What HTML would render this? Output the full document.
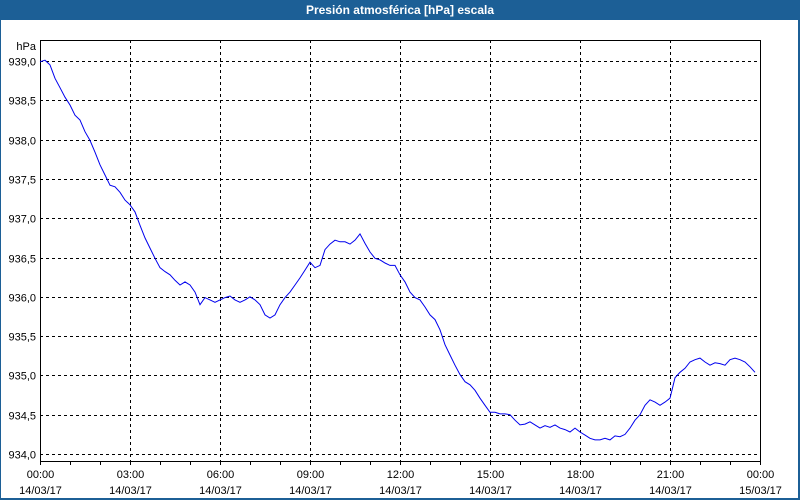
<!DOCTYPE html>
<html><head><meta charset="utf-8"><style>
html,body{margin:0;padding:0;background:#fff}
#wrap{position:relative;width:800px;height:500px;overflow:hidden;font-family:"Liberation Sans",sans-serif;background:#fff}
</style></head><body>
<div id="wrap">
<svg id="svg" width="800" height="500" xmlns="http://www.w3.org/2000/svg">
<rect x="0" y="0" width="800" height="500" fill="#1c5f96"/>
<rect x="1" y="20" width="797" height="478" fill="#fff"/>
<text x="400" y="14" text-anchor="middle" font-size="12" font-weight="bold" fill="#fff">Presión atmosférica [hPa] escala</text>
<g id="grid"></g>
<g id="axes"></g>
<polyline id="line" fill="none" stroke="#0000ee" stroke-width="1"/>
</svg>
</div>
<script>
const yTicks = [934.0,934.5,935.0,935.5,936.0,936.5,937.0,937.5,938.0,938.5,939.0];
const xTickLabels = ["00:00","03:00","06:00","09:00","12:00","15:00","18:00","21:00","00:00"];
const xDateLabels = ["14/03/17","14/03/17","14/03/17","14/03/17","14/03/17","14/03/17","14/03/17","14/03/17","15/03/17"];
const stepMinutes = 10;
const pressure = [938.99,939.01,938.95,938.78,938.66,938.54,938.44,938.31,938.25,938.10,937.99,937.84,937.68,937.55,937.42,937.40,937.33,937.23,937.17,937.08,936.91,936.75,936.62,936.49,936.37,936.32,936.28,936.21,936.15,936.19,936.15,936.06,935.90,935.99,935.96,935.93,935.96,935.99,936.01,935.96,935.93,935.96,936.00,935.96,935.90,935.77,935.73,935.77,935.90,935.99,936.06,936.15,936.24,936.34,936.44,936.37,936.40,936.60,936.67,936.72,936.70,936.70,936.67,936.72,936.80,936.68,936.57,936.49,936.47,936.43,936.40,936.40,936.28,936.19,936.06,935.99,935.96,935.87,935.77,935.71,935.58,935.39,935.26,935.13,935.01,934.92,934.88,934.81,934.71,934.62,934.53,934.53,934.51,934.51,934.50,934.43,934.37,934.38,934.41,934.37,934.33,934.36,934.34,934.37,934.33,934.31,934.28,934.33,934.28,934.24,934.20,934.18,934.18,934.20,934.18,934.23,934.22,934.25,934.33,934.43,934.50,934.62,934.69,934.66,934.62,934.66,934.71,934.97,935.04,935.09,935.17,935.20,935.22,935.17,935.13,935.16,935.15,935.13,935.20,935.22,935.20,935.17,935.11,935.04];

const L=40,R=760,T=40,B=461;
const yS=v=>454-(v-934)*78.6;
const xS=m=>L+(m/1440)*(R-L);
const NS="http://www.w3.org/2000/svg";
const grid=document.getElementById('grid'), axes=document.getElementById('axes');
function mk(tag,attrs,parent){const e=document.createElementNS(NS,tag);for(const k in attrs)e.setAttribute(k,attrs[k]);parent.appendChild(e);return e;}
yTicks.forEach(v=>{
  const y=Math.round(yS(v))+0.5;
  const g=mk('line',{x1:L,x2:R,y1:y,y2:y,stroke:'#000','stroke-dasharray':'3,3'},grid);
  
  
  const t=mk('text',{x:36,y:y+4,'text-anchor':'end','font-size':'11',fill:'#000'},axes);
  t.textContent=v.toFixed(1).replace('.',',');
  
  
});
xTickLabels.forEach((lab,i)=>{
  const x=Math.round(xS(i*180))+0.5;
  if(i>0&&i<xTickLabels.length-1){
    const g=mk('line',{x1:x,x2:x,y1:T,y2:B,stroke:'#000','stroke-dasharray':'3,3'},grid);
    
    
  }
  const t=mk('text',{x:x,y:478,'text-anchor':'middle','font-size':'11',fill:'#000'},axes);
  t.textContent=lab;
  
  
  const d=mk('text',{x:x,y:494,'text-anchor':'middle','font-size':'11',fill:'#000'},axes);
  d.textContent=xDateLabels[i];
  
  
});
for(let h=0;h<=24;h++){
  const x=Math.round(xS(h*60))+0.5;
  const m=mk('line',{x1:x,x2:x,y1:B,y2:B+4,stroke:'#000'},axes);
  
  
}
const box=mk('rect',{x:L+0.5,y:T+0.5,width:R-L,height:B-T,fill:'none',stroke:'#000'},axes);


const u=mk('text',{x:36,y:50,'text-anchor':'end','font-size':'11',fill:'#000'},axes);
u.textContent='hPa';


document.getElementById('line').setAttribute('points',pressure.map((v,i)=>xS(i*stepMinutes).toFixed(1)+','+yS(v).toFixed(1)).join(' '));
</script>
</body></html>
